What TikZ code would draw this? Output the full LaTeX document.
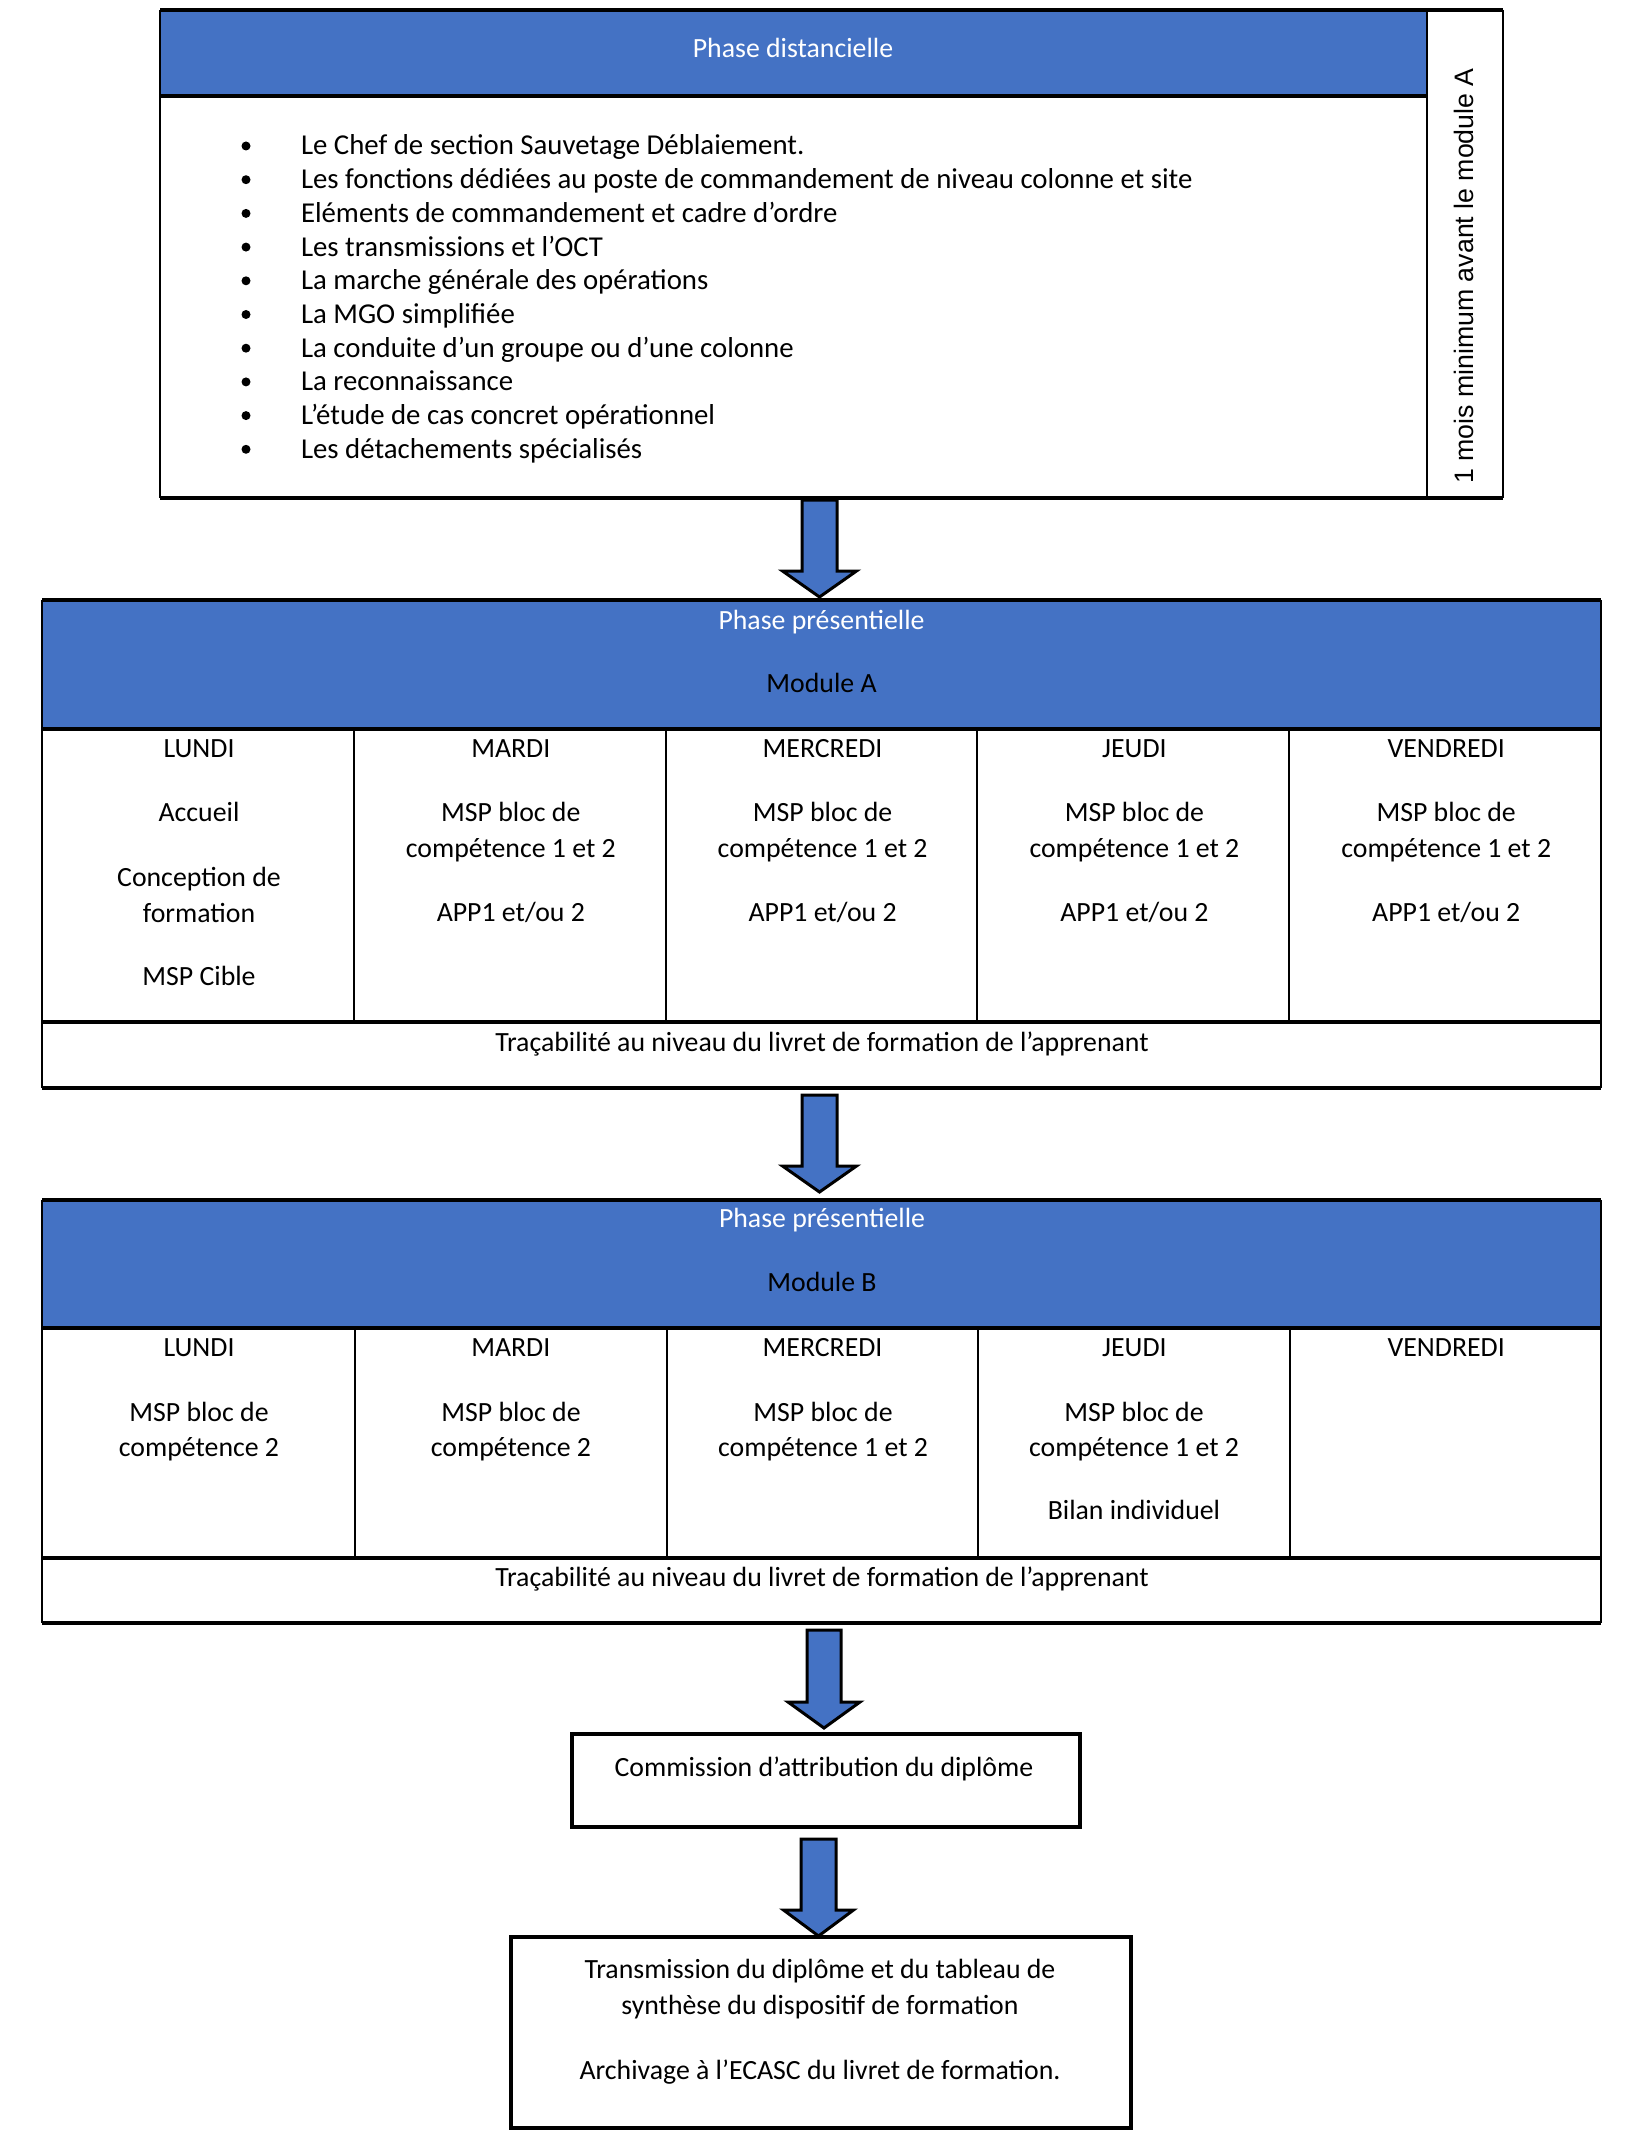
\documentclass[tikz,border=0pt]{standalone}
\usepackage{fontspec}
\setmainfont{Carlito}
\newfontfamily\arialf{Liberation Sans}
\definecolor{hdrblue}{HTML}{4472C4}
\newcommand\BlockArrow[5]{% x-left shaft, x-right shaft, y top, y head start, head half width
  \pgfmathsetmacro\bxm{(#1+#2)/2}%
  \draw[barrow] (#1,#3) -- (#2,#3) -- (#2,#4) -- (\bxm+#5,#4) -- (\bxm,#4+26) -- (\bxm-#5,#4) -- (#1,#4) -- cycle;}
\begin{document}
\begin{tikzpicture}[x=1pt,y=-1pt,
  every node/.style={inner sep=0pt,outer sep=0pt},
  txt/.style={anchor=base,font=\fontsize{27.8}{33}\selectfont},
  wtxt/.style={txt,text=white},
  ltxt/.style={anchor=base west,font=\fontsize{28.8}{33}\selectfont},
  bul/.style={circle,fill=black,minimum size=9pt},
  thickln/.style={line width=3.5pt},
  thinln/.style={line width=2pt},
  barrow/.style={fill=hdrblue,draw=black,line width=3pt,line join=miter}]
\useasboundingbox (0,0) rectangle (1643,2140);

% ---------- Phase distancielle ----------
\fill[hdrblue] (160,10) rectangle (1427,96);
\draw[thinln] (160,10) -- (160,498);
\draw[thinln] (1503,10) -- (1503,498);
\draw[thickln] (160,10) -- (1503,10);
\draw[thickln] (160,498) -- (1503,498);
\draw[thickln] (160,96) -- (1427,96);
\draw[thinln] (1427,10) -- (1427,498);
\node[wtxt] (pd) at (793,58) {Phase distancielle};
\foreach \t [count=\i from 0] in {{Le Chef de section Sauvetage Déblaiement.},
  {Les fonctions dédiées au poste de commandement de niveau colonne et site},
  {Eléments de commandement et cadre d’ordre},
  {Les transmissions et l’OCT},
  {La marche générale des opérations},
  {La MGO simplifiée},
  {La conduite d’un groupe ou d’une colonne},
  {La reconnaissance},
  {L’étude de cas concret opérationnel},
  {Les détachements spécialisés}}{
  \node[ltxt] (li\i) at (301,155+33.7*\i) {\t};
  \node[bul] (bu\i) at (246,146+33.7*\i) {};
}
\node[font=\arialf\fontsize{26.7}{32}\selectfont,rotate=90] (rot) at (1464,276) {1 mois minimum avant le module A};

% ---------- Arrow 1 ----------
\BlockArrow{802}{837}{500}{571}{37}

% ---------- Module A ----------
\fill[hdrblue] (42,600) rectangle (1601,729);
\draw[thinln] (42,600) -- (42,1088);
\draw[thinln] (1601,600) -- (1601,1088);
\draw[thickln] (42,600) -- (1601,600);
\draw[thickln] (42,729) -- (1601,729);
\draw[thickln] (42,1022) -- (1601,1022);
\draw[thickln] (42,1088) -- (1601,1088);
\foreach \x in {354,666,977,1289} \draw[thinln] (\x,729) -- (\x,1022);
\node[wtxt] (pa1) at (821.5,629) {Phase présentielle};
\node[txt] (pa2) at (821.5,692) {Module A};
\foreach \d [count=\i from 0] in {LUNDI,MARDI,MERCREDI,JEUDI,VENDREDI}
  \node[txt] (da\i) at (199+311.8*\i,757) {\d};
\node[txt] (a0a) at (199,821) {Accueil};
\node[txt] (a0b) at (199,886) {Conception de};
\node[txt] (a0c) at (199,922) {formation};
\node[txt] (a0d) at (199,985) {MSP Cible};
\foreach \i in {1,2,3,4}{
  \node[txt] (a\i a) at (199+311.8*\i,821) {MSP bloc de};
  \node[txt] (a\i b) at (199+311.8*\i,857) {compétence 1 et 2};
  \node[txt] (a\i c) at (199+311.8*\i,921) {APP1 et/ou 2};
}
\node[txt] (tra) at (822,1051) {Traçabilité au niveau du livret de formation de l’apprenant};

% ---------- Arrow 2 ----------
\BlockArrow{802}{837}{1095}{1166}{37}

% ---------- Module B ----------
\fill[hdrblue] (42,1200) rectangle (1601,1328);
\draw[thinln] (42,1200) -- (42,1623);
\draw[thinln] (1601,1200) -- (1601,1623);
\draw[thickln] (42,1200) -- (1601,1200);
\draw[thickln] (42,1328) -- (1601,1328);
\draw[thickln] (42,1558) -- (1601,1558);
\draw[thickln] (42,1623) -- (1601,1623);
\foreach \x in {355,667,978,1290} \draw[thinln] (\x,1328) -- (\x,1558);
\node[wtxt] (pb1) at (822,1227) {Phase présentielle};
\node[txt] (pb2) at (822,1291) {Module B};
\foreach \d [count=\i from 0] in {LUNDI,MARDI,MERCREDI,JEUDI,VENDREDI}
  \node[txt] (db\i) at (199+311.8*\i,1356) {\d};
\node[txt] (b0a) at (199,1421) {MSP bloc de};
\node[txt] (b0b) at (199,1456) {compétence 2};
\node[txt] (b1a) at (511,1421) {MSP bloc de};
\node[txt] (b1b) at (511,1456) {compétence 2};
\node[txt] (b2a) at (823,1421) {MSP bloc de};
\node[txt] (b2b) at (823,1456) {compétence 1 et 2};
\node[txt] (b3a) at (1134,1421) {MSP bloc de};
\node[txt] (b3b) at (1134,1456) {compétence 1 et 2};
\node[txt] (b3c) at (1134,1519) {Bilan individuel};
\node[txt] (trb) at (822,1586) {Traçabilité au niveau du livret de formation de l’apprenant};

% ---------- Arrow 3 ----------
\BlockArrow{807}{841}{1630}{1702}{36}

% ---------- Commission ----------
\draw[line width=4pt] (572,1734) rectangle (1080,1827);
\node[txt] (com) at (824,1776) {Commission d’attribution du diplôme};

% ---------- Arrow 4 ----------
\BlockArrow{801}{836}{1839}{1910}{35}

% ---------- Final ----------
\draw[line width=4pt] (511,1937) rectangle (1131,2128);
\node[txt] (f1) at (820,1978) {Transmission du diplôme et du tableau de};
\node[txt] (f2) at (820,2014) {synthèse du dispositif de formation};
\node[txt] (f3) at (820,2079) {Archivage à l’ECASC du livret de formation.};
\end{tikzpicture}
\end{document}
